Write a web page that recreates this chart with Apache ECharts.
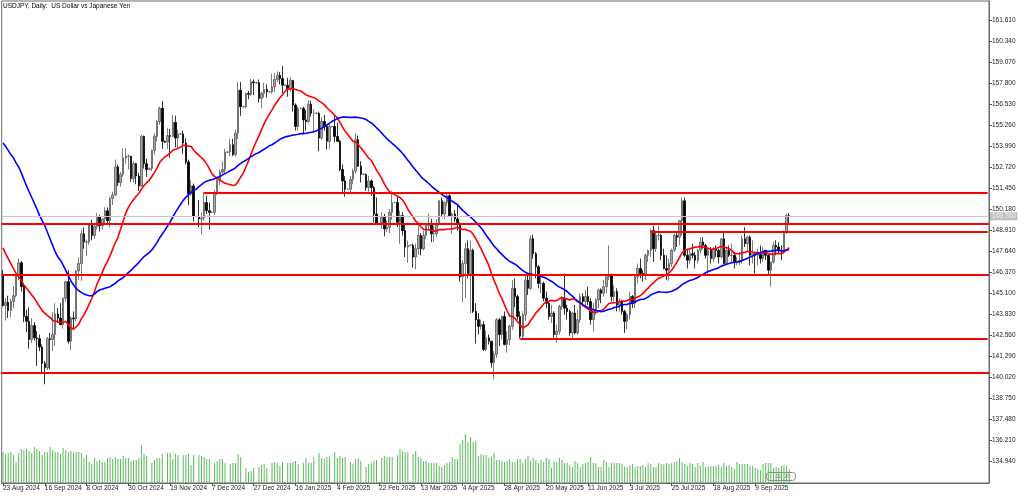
<!DOCTYPE html>
<html><head><meta charset="utf-8">
<script src="https://cdn.jsdelivr.net/npm/echarts@6/dist/echarts.min.js"></script>
<style>html,body{margin:0;padding:0;background:#fff}#c{width:1024px;height:496px}</style>
</head><body><div id="c"></div>
<script>
const chartTitle = 'USDJPY, Daily:  US Dollar vs Japanese Yen';
const tickLabels = ['23 Aug 2024','16 Sep 2024','8 Oct 2024','30 Oct 2024','19 Nov 2024','7 Dec 2024','27 Dec 2024','16 Jan 2025','4 Feb 2025','22 Feb 2025','13 Mar 2025','4 Apr 2025','28 Apr 2025','20 May 2025','11 Jun 2025','3 Jul 2025','25 Jul 2025','18 Aug 2025','9 Sep 2025'];
const yTicks = [134.94,136.21,137.48,138.75,140.02,141.29,142.56,143.83,145.10,146.37,147.64,148.91,150.18,151.45,152.72,153.99,155.26,156.53,157.80,159.07,160.34,161.61];

const opens = [146.25,
144.36,144.55,144.05,144.60,144.95, 146.15,146.95,145.50,143.70,143.40, 142.30,143.15,142.40,142.35,141.85,
140.85,140.60,142.35,142.30,142.60, 143.85,143.60,143.20,144.80,145.80, 142.20,143.60,143.55,146.45,146.90,
148.70,148.20,148.20,149.30,148.60, 149.15,149.75,149.20,149.60,150.10, 149.50,150.85,151.05,152.75,151.80,
152.30,153.30,153.40,153.40,152.05, 152.95,152.20,151.60,154.60,152.95,152.60, 152.65,153.75,154.60,155.50,156.30,154.30,
154.25,154.65,154.60,155.45,154.50,154.75, 154.75,154.20,153.05,151.10,151.60,149.75, 149.75,149.60,149.65,150.60,150.10,150.00,
150.00,151.20,151.95,152.45,152.60,153.65, 153.65,154.10,153.50,154.80,157.40,156.40, 156.40,157.20,157.15,157.90,157.85,
157.85,156.90,157.20,157.45,157.30, 157.30,157.60,158.05,158.30,158.10,157.70, 157.70,157.50,158.00,156.50,155.20,156.30,
156.30,155.60,155.50,156.55,156.00,156.00, 156.00,154.50,155.50,155.20,154.30,155.20, 155.20,154.60,154.30,152.60,151.90,151.40,
151.40,152.00,152.50,154.40,152.80,152.30, 152.30,151.50,151.90,151.50,149.90,149.30, 149.30,149.70,149.00,149.10,150.00,150.60,
150.60,149.40,149.80,148.90,147.90,148.00, 148.00,147.30,147.80,148.60,147.80, 148.60,149.20,149.30,148.70,148.70,
149.30,150.70,149.90,150.60,151.00, 149.80,149.90,149.60,149.30,146.10, 146.90,147.80,146.30,147.70,144.00,
143.50,143.10,143.20,141.70,142.40, 142.20,140.90,141.40,143.50,142.60, 143.70,142.00,142.30,143.10,145.40,
144.90,143.70,142.50,143.80,145.90, 145.40,148.40,147.50,146.70,145.70, 145.70,144.80,144.50,143.70,143.90,
142.60,142.80,144.30,144.80,144.20, 144.00,142.70,143.90,142.70,143.50, 144.90,144.60,144.90,144.60,143.50,
144.10,144.70,145.30,145.10,145.50, 146.10,146.20,144.90,145.20,144.40, 144.60,144.00,143.40,143.80,144.90,
144.50,146.10,146.60,146.30,146.20, 147.40,147.70,148.90,147.80,148.60, 148.60,147.40,146.60,146.50,146.90,
147.70,148.60,148.50,149.50,150.70, 147.40,147.10,147.50,147.40,147.10, 147.70,148.20,148.00,147.40,147.70,
147.20,147.80,147.70,147.30,148.40, 146.90,147.70,147.40,147.40,147.00, 147.00,147.10,148.40,148.10,148.50,
147.40,147.50,147.40,147.45,147.20, 147.70,147.40,146.50,147.00,148.00, 147.90,147.70,147.65,148.80,149.80];

const highs = [146.50,
144.80,144.95,144.75,145.55,146.25, 147.20,147.05,145.60,144.10,144.25, 143.60,143.35,142.80,142.60,142.00,
141.00,142.45,142.70,143.95,144.50, 144.20,144.50,144.85,145.85,146.50, 143.70,144.00,146.50,147.25,148.95,
149.10,148.35,149.35,149.55,149.30, 149.95,149.85,149.65,150.30,150.30, 150.95,151.25,153.20,152.90,152.45,
153.85,153.90,153.50,153.40,153.10, 153.00,152.40,154.70,154.65,153.25,152.70, 153.80,154.80,155.60,156.40,156.75,154.35,
155.10,155.05,155.90,155.85,155.00,154.80, 154.95,154.50,153.20,151.95,151.75,149.80, 150.75,150.00,151.25,151.00,150.60,150.05,
151.35,152.00,152.60,153.10,153.85,153.70, 154.45,154.45,155.00,157.90,157.90,156.45, 157.25,157.35,158.10,158.05,157.90,
158.05,157.30,157.85,157.75,157.35, 158.40,158.45,158.55,158.50,158.87,157.75, 158.15,158.20,158.00,156.60,156.40,156.35,
156.40,156.20,156.80,156.75,156.25,156.05, 156.10,155.75,155.90,155.30,155.35,155.25, 155.90,155.45,154.40,152.90,152.20,151.45,
152.20,152.65,154.80,154.65,153.10,152.35, 152.35,152.20,152.00,151.60,150.90,149.35, 150.00,149.90,149.50,150.20,151.30,150.65,
151.00,150.10,150.00,149.30,148.30,148.05, 148.10,148.10,149.20,148.75,148.90, 149.35,149.95,149.60,149.20,149.60,
150.75,150.90,150.65,151.20,151.20, 150.00,150.15,150.50,149.40,147.10, 148.15,148.30,148.30,147.80,144.50,
143.90,143.50,143.40,142.85,142.60, 142.20,141.60,143.60,143.60,143.75, 144.00,142.80,143.20,145.90,146.00,
145.00,144.00,144.00,146.20,146.20, 148.60,148.65,147.60,146.80,146.10, 145.80,145.20,144.60,144.40,144.00,
143.20,144.40,144.95,146.30,144.40, 144.10,144.00,144.40,144.10,145.10, 145.10,145.30,145.50,144.80,144.50,
144.80,145.40,145.40,145.90,146.20, 148.00,146.30,145.60,145.40,144.80, 144.70,144.10,143.90,145.20,145.00,
146.20,146.90,147.20,146.50,147.50, 147.75,149.00,149.20,148.80,149.20, 148.70,147.80,147.40,147.20,147.80,
148.70,148.80,149.55,150.90,150.90, 147.80,147.80,148.10,147.60,147.80, 148.50,148.50,148.10,147.85,147.90,
147.90,148.00,147.80,148.45,148.80, 147.80,148.00,148.10,147.60,147.30, 147.60,148.60,149.10,148.60,148.60,
148.30,147.60,147.80,148.00,147.90, 147.70,147.50,147.00,148.20,148.30, 148.20,148.00,148.90,149.90,149.95];

const lows = [144.30,
143.45,143.60,143.65,144.20,144.85, 145.90,145.20,143.35,142.75,141.75, 142.10,142.25,140.70,141.60,140.30,
139.58,140.45,140.50,141.60,141.90, 143.30,143.20,142.95,144.60,142.05, 141.65,142.95,143.40,145.90,145.85,
147.80,147.35,148.05,148.30,148.40, 148.95,148.85,148.95,149.30,149.35, 149.10,150.45,151.00,151.60,151.55,
152.15,152.95,152.60,151.85,151.80, 151.70,151.30,151.55,152.65,152.15,152.55, 152.50,153.50,154.30,155.30,153.85,154.20,
153.85,153.30,154.55,153.95,153.90,154.70, 153.55,152.90,150.45,151.00,149.45,149.70, 149.10,148.65,149.50,149.90,148.95,149.95,
149.85,151.05,151.65,152.30,152.40,153.60, 153.40,153.40,153.40,154.45,155.85,156.35, 156.30,156.85,157.05,157.10,157.80,
156.65,156.30,156.95,156.95,157.25, 157.20,157.30,157.90,157.75,157.20,157.65, 157.00,157.30,156.10,154.95,154.95,156.25,
154.80,154.95,155.40,155.80,154.80,155.95, 153.70,154.40,154.95,153.80,153.85,155.15, 154.25,154.25,152.50,151.25,150.95,151.35,
151.15,151.70,152.35,152.75,151.80,152.25, 151.30,151.25,151.00,149.40,149.25,149.25, 149.00,148.55,148.80,148.75,149.55,150.55,
149.10,148.10,148.60,147.30,146.95,147.95, 146.65,146.55,147.45,147.40,147.70, 148.40,148.90,148.20,148.20,148.50,
149.20,149.70,149.60,150.40,149.75, 148.70,149.40,148.90,145.80,144.55, 144.80,146.00,143.90,143.90,142.05,
142.60,142.90,141.60,141.60,142.00, 140.60,139.89,141.20,141.90,142.30, 141.95,141.50,141.95,142.90,144.25,
143.50,142.35,142.35,143.40,145.00, 145.30,147.20,146.00,145.40,145.10, 144.60,144.20,143.50,143.30,142.40,
142.10,142.60,144.10,143.80,143.50, 142.50,142.40,142.60,142.60,143.30, 144.30,144.30,144.40,143.20,142.80,
143.80,144.20,144.50,144.90,145.10, 145.90,144.60,144.60,144.00,144.00, 143.80,142.70,142.90,143.50,144.20,
144.20,145.70,146.00,145.80,145.90, 147.00,147.30,147.00,147.60,148.30, 147.10,146.55,145.90,145.85,146.70,
147.60,147.90,148.00,148.60,147.30, 146.60,146.90,147.20,146.60,146.90, 147.50,147.80,147.20,146.20,146.90,
147.00,147.30,146.90,147.20,146.85, 146.80,147.30,147.00,146.60,146.80, 146.80,146.90,147.90,147.70,146.80,
146.90,146.30,146.80,146.90,147.00, 147.10,146.20,145.50,146.90,147.40, 147.50,147.10,147.50,148.70,149.30];

const closes = [144.36,
144.55,144.05,144.60,144.95,146.15, 146.95,145.50,143.70,143.40,142.30, 143.15,142.40,142.35,141.85,140.85,
140.60,142.35,142.30,142.60,143.85, 143.60,143.20,144.80,145.80,142.20, 143.60,143.55,146.45,146.90,148.70,
148.20,148.20,149.30,148.60,149.15, 149.75,149.20,149.60,150.10,149.50, 150.85,151.05,152.75,151.80,152.30,
153.30,153.40,153.40,152.05,152.95, 152.20,151.60,154.60,152.95,152.60,152.65, 153.75,154.60,155.50,156.30,154.30,154.25,
154.65,154.60,155.45,154.50,154.75,154.75, 154.20,153.05,151.10,151.60,149.75,149.75, 149.60,149.65,150.60,150.10,150.00,150.00,
151.20,151.95,152.45,152.60,153.65,153.65, 154.10,153.50,154.80,157.40,156.40,156.40, 157.20,157.15,157.90,157.85,157.85,
156.90,157.20,157.45,157.30,157.30, 157.60,158.05,158.30,158.10,157.70,157.70, 157.50,158.00,156.50,155.20,156.30,156.30,
155.60,155.50,156.55,156.00,156.00,156.00, 154.50,155.50,155.20,154.30,155.20,155.20, 154.60,154.30,152.60,151.90,151.40,151.40,
152.00,152.50,154.40,152.80,152.30,152.30, 151.50,151.90,151.50,149.90,149.30,149.30, 149.70,149.00,149.10,150.00,150.60,150.60,
149.40,149.80,148.90,147.90,148.00,148.00, 147.30,147.80,148.60,147.80,148.60, 149.20,149.30,148.70,148.70,149.30,
150.70,149.90,150.60,151.00,149.80, 149.90,149.60,149.30,146.10,146.90, 147.80,146.30,147.70,144.00,143.50,
143.10,143.20,141.70,142.40,142.20, 140.90,141.40,143.50,142.60,143.70, 142.00,142.30,143.10,145.40,144.90,
143.70,142.50,143.80,145.90,145.40, 148.40,147.50,146.70,145.70,145.70, 144.80,144.50,143.70,143.90,142.60,
142.80,144.30,144.80,144.20,144.00, 142.70,143.90,142.70,143.50,144.90, 144.60,144.90,144.60,143.50,144.10,
144.70,145.30,145.10,145.50,146.10, 146.20,144.90,145.20,144.40,144.60, 144.00,143.40,143.80,144.90,144.50,
146.10,146.60,146.30,146.20,147.40, 147.70,148.90,147.80,148.60,148.60, 147.40,146.60,146.50,146.90,147.70,
148.60,148.50,149.50,150.70,147.40, 147.10,147.50,147.40,147.10,147.70, 148.20,148.00,147.40,147.70,147.20,
147.80,147.70,147.30,148.40,146.90, 147.70,147.40,147.40,147.00,147.00, 147.10,148.40,148.10,148.50,147.40,
147.50,147.40,147.45,147.20,147.70, 147.40,146.50,147.00,148.00,147.90, 147.70,147.65,148.80,149.80,149.76];

const volumes = [31,
29,30,31,28,21, 30,34,33,34,32, 30,36,34,32,28,
31,31,36,33,31, 31,29,35,33,31, 32,30,31,31,30,
25,28,21,19,25, 22,23,21,21,25, 26,24,26,24,24,
27,25,25,22,23, 23,25,38,29,27,1, 20,23,25,25,29,1,
30,30,24,29,28,1, 28,28,29,18,28,1, 28,27,26,24,24,1,
20,22,24,24,20,1, 19,20,20,29,26,1, 15,11,12,15,1,
16,18,19,15,1, 20,21,20,17,21,1, 20,20,21,22,19,1,
20,25,20,20,26,1, 30,25,24,26,26,1, 31,25,27,25,26,1,
21,19,24,25,22,1, 16,19,20,22,23,1, 25,27,26,26,26,1,
28,34,32,31,31,1, 29,32,26,25,22, 22,20,20,20,20,
17,16,18,20,21, 26,24,24,39,43, 49,41,46,41,42,
27,29,28,28,25, 26,30,23,23,22, 21,22,24,21,21,
24,24,20,24,27, 22,25,23,20,23, 21,25,24,15,21,
21,25,23,20,20, 18,16,22,20,16, 19,20,21,26,20,
20,16,16,23,21, 16,20,20,20,20, 19,16,16,18,19,
16,17,17,18,16, 20,19,16,16,20, 19,19,20,19,20,
21,22,25,21,19, 17,20,19,16,20, 17,21,16,17,17,
17,17,18,16,20, 17,18,16,14,21, 19,19,19,19,17,
17,15,14,13,19, 20,20,20,15,16, 15,17,18,17,14];

// moving-average values for bars whose look-back lies before the first visible bar
const maFastHead = [147.85,147.50,147.20,146.90,146.60,146.30,146.10,145.90,145.60,145.40,145.20,145.00,144.80,144.55,144.30,144.05,143.90,143.75,143.65];
const maSlowHead = [154.20,154.00,153.75,153.50,153.30,153.00,152.75,152.40,152.00,151.60,151.25,150.90,150.55,150.20,149.80,149.50,149.20,148.80,148.40,148.00,147.60,147.30,147.10,146.80,146.50,146.15,145.85,145.60,145.40,145.25,145.15,145.05,145.00,144.95,144.95,145.05,145.20,145.30,145.35,145.40,145.45,145.50,145.60,145.70,145.85,145.95,146.05,146.20,146.35];
const maFastPeriod = 20, maSlowPeriod = 50;

const levelPrices = [151.21, 149.28, 148.83, 146.24, 142.36, 140.28];
const levelStartBars = [77, 0, 248, 0, 198, 0];
const bidPrice = 149.76;
const timerText = '22:30';

function sma(period, head) {
  return closes.map((c, i) => {
    if (i < head.length) return head[i];
    let s = 0;
    for (let k = i - period + 1; k <= i; k++) s += closes[k];
    return +(s / period).toFixed(3);
  });
}

const nBars = closes.length;
const emptyRight = 76;
const categories = Array.from({length: nBars + emptyRight}, (_, i) => String(i));
const candleData = closes.map((c, i) => [opens[i], c, lows[i], highs[i]]);
const lastIdx = categories.length - 1;

const FONT = 'Liberation Sans';
const levelMarks = levelPrices.map((p, k) => levelStartBars[k] === 0
  ? { yAxis: p }
  : [{ coord: [String(levelStartBars[k]), p] }, { coord: [String(lastIdx), p] }]);

const tickFn = (i) => i % 16 === 0 && i < nBars;

const chart = echarts.init(document.getElementById('c'), null, {renderer: 'canvas'});
chart.setOption({
  animation: false,
  backgroundColor: '#ffffff',
  grid: { left: 1, right: 35, top: 1, bottom: 13, show: true, borderColor: '#6a6a6a', borderWidth: 1, backgroundColor: '#ffffff' },
  graphic: [
    { type: 'text', left: 3, top: 3, style: { text: chartTitle, font: '6.5px "' + FONT + '"', fill: '#000' }, z: 100 },
    { type: 'group', left: 766, top: 472, z: 100, children: [
      { type: 'rect', shape: { x: 0, y: 0, width: 29, height: 8, r: 3 }, style: { fill: '#ffffff', stroke: '#8a8a8a', lineWidth: 1 } },
      { type: 'text', left: 9, top: 1, style: { text: timerText, font: '6px "' + FONT + '"', fill: '#777' } }
    ]}
  ],
  xAxis: {
    type: 'category', data: categories, boundaryGap: true,
    axisLine: { show: true, lineStyle: { color: '#6a6a6a', width: 1 } },
    axisTick: { show: true, alignWithLabel: true, interval: tickFn, length: 3, lineStyle: { color: '#555' } },
    axisLabel: { show: true, interval: tickFn, align: 'left', margin: 2, color: '#222', fontSize: 6.5, fontFamily: FONT,
      formatter: (v) => { const i = +v; return i % 16 === 0 ? (tickLabels[i / 16] || '') : ''; } },
    splitLine: { show: false }
  },
  yAxis: [
    { type: 'value', position: 'right', min: 133.61, max: 162.80, scale: true,
      axisLine: { show: true, lineStyle: { color: '#6a6a6a' } },
      axisTick: { show: true, length: 3, customValues: yTicks, lineStyle: { color: '#555' } },
      axisLabel: { show: true, customValues: yTicks, margin: 3, color: '#222', fontSize: 6.5, fontFamily: FONT, formatter: (v) => v.toFixed(3) },
      splitLine: { show: false } },
    { type: 'value', min: 0, max: 482, show: false, splitLine: { show: false } }
  ],
  series: [
    { type: 'bar', name: 'Volume', data: volumes, yAxisIndex: 1, barWidth: 1, itemStyle: { color: '#5cb85c' }, z: 1, silent: true },
    { type: 'candlestick', name: 'USDJPY', data: candleData, barWidth: 2, z: 2,
      itemStyle: { color: '#a8a8a8', color0: '#000000', borderColor: '#5a5a5a', borderColor0: '#000000', borderWidth: 0.8 },
      markLine: { silent: true, symbol: 'none', animation: false, z: 5,
        lineStyle: { color: '#ff0000', width: 2, type: 'solid' }, label: { show: false },
        data: levelMarks.concat([{ yAxis: bidPrice, lineStyle: { color: '#c8c8c8', width: 1 },
          label: { show: true, position: 'end', distance: 1, formatter: bidPrice.toFixed(3), color: '#f4f4f4', backgroundColor: '#c0c0c0',
            fontSize: 6.5, fontFamily: FONT, padding: [1, 2, 0, 2] } }]) } },
    { type: 'line', name: 'MA fast', data: sma(maFastPeriod, maFastHead), showSymbol: false, smooth: false, z: 4,
      lineStyle: { color: '#ff0000', width: 1.6 }, silent: true },
    { type: 'line', name: 'MA slow', data: sma(maSlowPeriod, maSlowHead), showSymbol: false, smooth: false, z: 4,
      lineStyle: { color: '#0000ff', width: 1.6 }, silent: true }
  ]
});
</script>
</body></html>
